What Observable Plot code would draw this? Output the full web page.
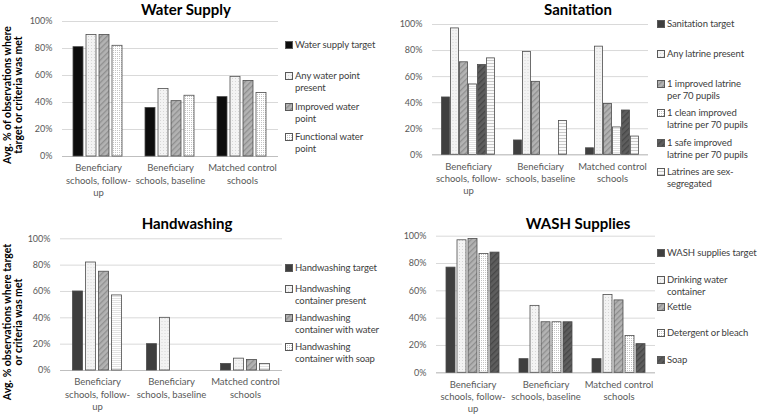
<!DOCTYPE html>
<html><head><meta charset="utf-8">
<script src="https://cdn.jsdelivr.net/npm/d3@7"></script>
<script src="https://cdn.jsdelivr.net/npm/@observablehq/plot@0.6"></script>
<style>
html,body{margin:0;padding:0;background:#fff;}
#root{position:relative;width:763px;height:416px;overflow:hidden;font-family:Lato,"Open Sans",sans-serif;}
.panel{position:absolute;}
.title{position:absolute;font-weight:bold;font-size:15px;color:#000;white-space:nowrap;transform:translateX(-50%);line-height:18px;}
.ytitle{position:absolute;font-weight:bold;font-size:10.5px;color:#000;text-align:center;line-height:11px;white-space:pre;transform:translate(-50%,-50%) rotate(-90deg);}
.leg{position:absolute;display:flex;align-items:flex-start;font-size:9.5px;letter-spacing:-0.1px;line-height:12.5px;color:#404040;white-space:pre;}
.leg svg{flex:none;margin-top:2.25px;margin-right:2px;}
</style></head>
<body>
<svg width="0" height="0" style="position:absolute">
<defs>
<pattern id="pDots" width="3" height="3" patternUnits="userSpaceOnUse"><rect width="3" height="3" fill="#f3f3f3"/><rect x="0" y="0" width="1" height="1" fill="#d6d6d6"/></pattern>
<pattern id="pDiag" width="4" height="4" patternUnits="userSpaceOnUse" patternTransform="rotate(45)"><rect width="4" height="4" fill="#b3b3b3"/><rect width="1.3" height="4" fill="#8f8f8f"/></pattern>
<pattern id="pCheck" width="2" height="2" patternUnits="userSpaceOnUse"><rect width="2" height="2" fill="#ffffff"/><rect width="1" height="1" fill="#c4c4c4"/></pattern>
<pattern id="pDiagDark" width="4" height="4" patternUnits="userSpaceOnUse" patternTransform="rotate(45)"><rect width="4" height="4" fill="#5e5e5e"/><rect width="1.3" height="4" fill="#474747"/></pattern>
<pattern id="pHStripe" width="3" height="3" patternUnits="userSpaceOnUse"><rect width="3" height="3" fill="#fafafa"/><rect width="3" height="1" fill="#c9c9c9"/></pattern>
</defs>
</svg>
<div id="root"></div>
<script>
// ---- data ----
const groups = ["Beneficiary schools, follow-up", "Beneficiary schools, baseline", "Matched control schools"];
const groupTickLabels = ["Beneficiary\nschools, follow-\nup", "Beneficiary\nschools, baseline", "Matched control\nschools"];
const yTicks = [0, 20, 40, 60, 80, 100];

const waterSeries = ["Water supply target", "Any water point\npresent", "Improved water\npoint", "Functional water\npoint"];
const waterTarget = [81, 36, 44];
const waterAnyPoint = [90, 50, 59];
const waterImproved = [90, 41, 56];
const waterFunctional = [82, 45, 47];

const sanitationSeries = ["Sanitation target", "Any latrine present", "1 improved latrine\nper 70 pupils", "1 clean improved\nlatrine per 70 pupils", "1 safe improved\nlatrine per 70 pupils", "Latrines are sex-\nsegregated"];
const sanitationTarget = [44, 11, 5];
const sanitationAnyLatrine = [97, 79, 83];
const sanitationImproved = [71, 56, 39];
const sanitationClean = [54, null, 21];
const sanitationSafe = [69, null, 34];
const sanitationSexSegregated = [74, 26, 14];

const handwashingSeries = ["Handwashing target", "Handwashing\ncontainer present", "Handwashing\ncontainer with water", "Handwashing\ncontainer with soap"];
const handwashingTarget = [60, 20, 5];
const handwashingContainer = [82, 40, 9];
const handwashingWater = [75, null, 8];
const handwashingSoap = [57, null, 5];

const washSeries = ["WASH supplies target", "Drinking water\ncontainer", "Kettle", "Detergent or bleach", "Soap"];
const washTarget = [77, 10, 10];
const washDrinking = [97, 49, 57];
const washKettle = [98, 37, 53];
const washDetergent = [87, 37, 27];
const washSoap = [88, 37, 21];

// ---- styles ----
const DOTS = "url(#pDots)", DIAG = "url(#pDiag)", CHECK = "url(#pCheck)", DIAGDK = "url(#pDiagDark)", HSTRIPE = "url(#pHStripe)";

const root = document.getElementById("root");

function panel(cfg) {
  const div = document.createElement("div");
  div.className = "panel";
  Object.assign(div.style, {left: cfg.left + "px", top: cfg.top + "px", width: cfg.pw + "px", height: cfg.ph + "px"});
  root.appendChild(div);

  const rows = [];
  cfg.series.forEach((s, i) => cfg.values[i].forEach((v, j) => {
    if (v != null) rows.push({group: groups[j], series: s, value: v, fill: cfg.fills[i]});
  }));

  const chart = Plot.plot({
    width: cfg.width, height: cfg.height,
    marginLeft: cfg.ml, marginRight: cfg.mr, marginTop: cfg.mt, marginBottom: cfg.mb,
    style: {fontFamily: "Lato, sans-serif", fontSize: "9.5px", color: "#595959", background: "transparent", overflow: "visible"},
    fx: {domain: groups, padding: 0, label: null},
    x: {domain: cfg.series, paddingInner: cfg.pi, paddingOuter: cfg.po, axis: null},
    y: {domain: [0, 100], label: null},
    color: {type: "identity"},
    marks: [
      Plot.gridY(yTicks, {stroke: "#d9d9d9", strokeOpacity: 1}),
      Plot.ruleY([0], {stroke: "#bfbfbf"}),
      Plot.axisY(yTicks, {tickSize: 0, tickPadding: 10, tickFormat: d => d + "%", label: null, fontSize: 9}),
      Plot.axisFx({anchor: "bottom", tickSize: 0, tickPadding: 6, label: null, lineHeight: 1.3, fontSize: 9.5,
        tickFormat: d => groupTickLabels[groups.indexOf(d)]}),
      Plot.barY(rows, {fx: "group", x: "series", y: "value", fill: "fill", stroke: "#4d4d4d", strokeWidth: 0.8})
    ]
  });
  chart.style.position = "absolute";
  chart.style.left = "0px";
  chart.style.top = "0px";
  div.appendChild(chart);

  const t = document.createElement("div");
  t.className = "title";
  t.textContent = cfg.title;
  t.style.left = cfg.titleX + "px";
  t.style.top = cfg.titleY + "px";
  div.appendChild(t);

  if (cfg.ytitle) {
    const y = document.createElement("div");
    y.className = "ytitle";
    y.textContent = cfg.ytitle;
    y.style.left = cfg.ytX + "px";
    y.style.top = cfg.ytY + "px";
    div.appendChild(y);
  }

  cfg.series.forEach((s, i) => {
    const d = document.createElement("div");
    d.className = "leg";
    d.style.left = cfg.legX + "px";
    d.style.top = (cfg.legY[i] - 6.25) + "px";
    d.innerHTML = `<svg width="8" height="8"><rect x="0.5" y="0.5" width="7" height="7" fill="${cfg.fills[i]}" stroke="#595959"/></svg>`;
    const sp = document.createElement("span");
    sp.textContent = s;
    d.appendChild(sp);
    div.appendChild(d);
  });
}

panel({
  left: 0, top: 0, pw: 380, ph: 210,
  width: 290, height: 205, ml: 61, mr: 10.5, mt: 21, mb: 49, pi: 0.2, po: 0.82,
  series: waterSeries,
  values: [waterTarget, waterAnyPoint, waterImproved, waterFunctional],
  fills: ["#0d0d0d", DOTS, DIAG, CHECK],
  title: "Water Supply", titleX: 186, titleY: 0,
  ytitle: "Avg. % of observations where\ntarget or criteria was met", ytX: 13, ytY: 95,
  legX: 285, legY: [45, 76, 107, 137]
});

panel({
  left: 380, top: 0, pw: 383, ph: 210,
  width: 280, height: 205, ml: 51.5, mr: 11.5, mt: 24, mb: 50.7, pi: 0.14, po: 0.82,
  series: sanitationSeries,
  values: [sanitationTarget, sanitationAnyLatrine, sanitationImproved, sanitationClean, sanitationSafe, sanitationSexSegregated],
  fills: ["#3f3f3f", DOTS, DIAG, CHECK, DIAGDK, HSTRIPE],
  title: "Sanitation", titleX: 198, titleY: 0,
  legX: 277, legY: [24, 54, 84, 113, 143, 172]
});

panel({
  left: 0, top: 210, pw: 380, ph: 206,
  width: 290, height: 206, ml: 59.5, mr: 7.5, mt: 28.3, mb: 46, pi: 0.2, po: 0.75,
  series: handwashingSeries,
  values: [handwashingTarget, handwashingContainer, handwashingWater, handwashingSoap],
  fills: ["#3f3f3f", DOTS, DIAG, CHECK],
  title: "Handwashing", titleX: 187, titleY: 4,
  ytitle: "Avg. % observations where target\nor criteria was met", ytX: 13, ytY: 112,
  legX: 285, legY: [58, 79, 108, 137]
});

panel({
  left: 380, top: 210, pw: 383, ph: 206,
  width: 285, height: 206, ml: 55, mr: 9, mt: 25.7, mb: 43.7, pi: 0.14, po: 0.83,
  series: washSeries,
  values: [washTarget, washDrinking, washKettle, washDetergent, washSoap],
  fills: ["#3f3f3f", DOTS, DIAG, CHECK, DIAGDK],
  title: "WASH Supplies", titleX: 198, titleY: 4,
  legX: 277, legY: [43, 70, 97, 123, 150]
});
</script>
</body></html>
